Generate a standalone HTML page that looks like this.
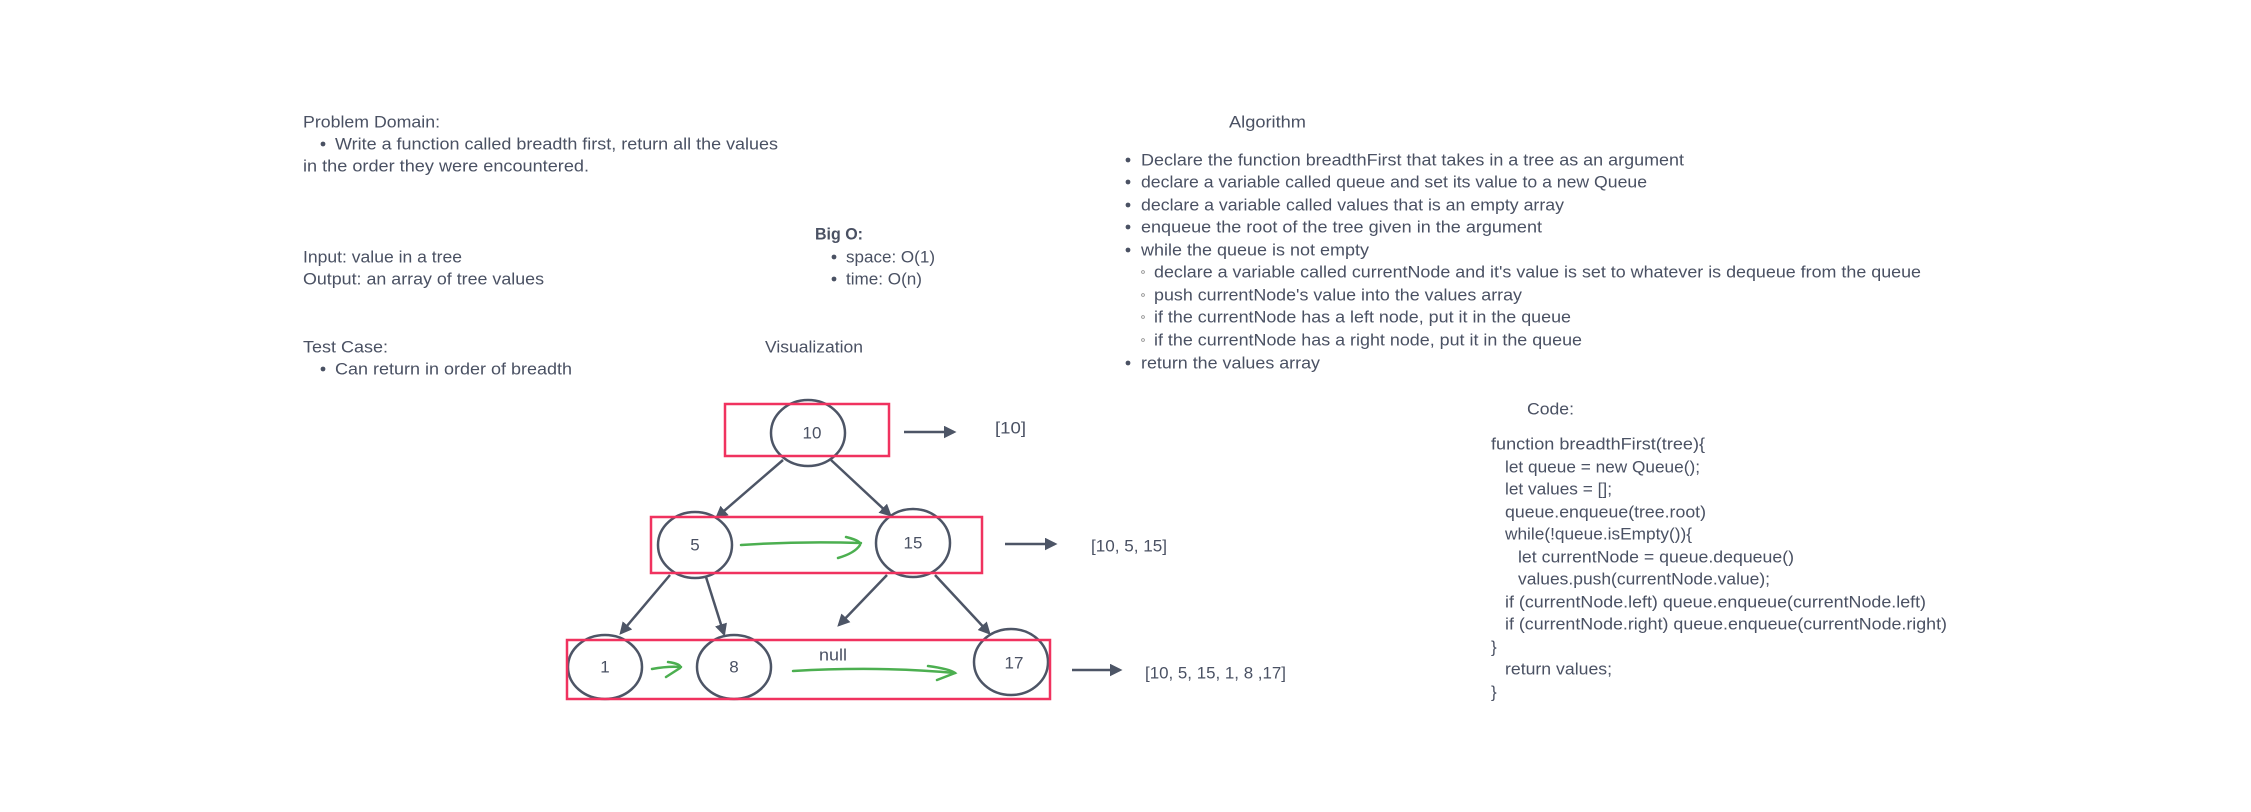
<!DOCTYPE html>
<html><head><meta charset="utf-8"><style>
html,body{margin:0;padding:0;background:#fff;}
svg{display:block;}
text{font-family:"Liberation Sans",sans-serif;font-size:17px;fill:#4a5163;dominant-baseline:central;}
</style></head><body>
<svg width="2251" height="812" viewBox="0 0 2251 812" xmlns="http://www.w3.org/2000/svg">
<defs>
<marker id="ah" viewBox="0 0 10 10" refX="8" refY="5" markerWidth="5" markerHeight="5" orient="auto"><path d="M0,0 L10,5 L0,10 z" fill="#4d5566"/></marker>
</defs>
<!-- Left text -->
<text x="303" y="122" textLength="137" lengthAdjust="spacingAndGlyphs">Problem Domain:</text>
<circle cx="323" cy="144" r="2.4" fill="#4a5163"/>
<text x="335" y="144" textLength="443" lengthAdjust="spacingAndGlyphs">Write a function called breadth first, return all the values</text>
<text x="303" y="166" textLength="286" lengthAdjust="spacingAndGlyphs">in the order they were encountered.</text>
<text x="303" y="257" textLength="159" lengthAdjust="spacingAndGlyphs">Input: value in a tree</text>
<text x="303" y="279" textLength="241" lengthAdjust="spacingAndGlyphs">Output: an array of tree values</text>
<text x="815" y="234" textLength="48" lengthAdjust="spacingAndGlyphs" font-weight="bold">Big O:</text>
<circle cx="834" cy="257" r="2.4" fill="#4a5163"/>
<text x="846" y="257" textLength="89" lengthAdjust="spacingAndGlyphs">space: O(1)</text>
<circle cx="834" cy="279" r="2.4" fill="#4a5163"/>
<text x="846" y="279" textLength="76" lengthAdjust="spacingAndGlyphs">time: O(n)</text>
<text x="303" y="347" textLength="85" lengthAdjust="spacingAndGlyphs">Test Case:</text>
<circle cx="323" cy="369" r="2.4" fill="#4a5163"/>
<text x="335" y="369" textLength="237" lengthAdjust="spacingAndGlyphs">Can return in order of breadth</text>
<text x="765" y="347" textLength="98" lengthAdjust="spacingAndGlyphs">Visualization</text>

<!-- Algorithm -->
<text x="1229" y="122" textLength="77" lengthAdjust="spacingAndGlyphs">Algorithm</text>
<g fill="#4a5163">
<circle cx="1128" cy="160" r="2.4"/><circle cx="1128" cy="182" r="2.4"/><circle cx="1128" cy="205" r="2.4"/><circle cx="1128" cy="227" r="2.4"/><circle cx="1128" cy="250" r="2.4"/><circle cx="1128" cy="363" r="2.4"/>
</g>
<g fill="none" stroke="#888" stroke-width="0.8">
<circle cx="1143" cy="272" r="1.4"/><circle cx="1143" cy="295" r="1.4"/><circle cx="1143" cy="317" r="1.4"/><circle cx="1143" cy="340" r="1.4"/>
</g>
<text x="1141" y="160" textLength="543" lengthAdjust="spacingAndGlyphs">Declare the function breadthFirst that takes in a tree as an argument</text>
<text x="1141" y="182" textLength="506" lengthAdjust="spacingAndGlyphs">declare a variable called queue and set its value to a new Queue</text>
<text x="1141" y="205" textLength="423" lengthAdjust="spacingAndGlyphs">declare a variable called values that is an empty array</text>
<text x="1141" y="227" textLength="401" lengthAdjust="spacingAndGlyphs">enqueue the root of the tree given in the argument</text>
<text x="1141" y="250" textLength="228" lengthAdjust="spacingAndGlyphs">while the queue is not empty</text>
<text x="1154" y="272" textLength="767" lengthAdjust="spacingAndGlyphs">declare a variable called currentNode and it's value is set to whatever is dequeue from the queue</text>
<text x="1154" y="295" textLength="368" lengthAdjust="spacingAndGlyphs">push currentNode's value into the values array</text>
<text x="1154" y="317" textLength="417" lengthAdjust="spacingAndGlyphs">if the currentNode has a left node, put it in the queue</text>
<text x="1154" y="340" textLength="428" lengthAdjust="spacingAndGlyphs">if the currentNode has a right node, put it in the queue</text>
<text x="1141" y="363" textLength="179" lengthAdjust="spacingAndGlyphs">return the values array</text>

<!-- Code -->
<text x="1527" y="409" textLength="47" lengthAdjust="spacingAndGlyphs">Code:</text>
<text x="1491" y="444" textLength="214" lengthAdjust="spacingAndGlyphs">function breadthFirst(tree){</text>
<text x="1505" y="467" textLength="195" lengthAdjust="spacingAndGlyphs">let queue = new Queue();</text>
<text x="1505" y="489" textLength="107" lengthAdjust="spacingAndGlyphs">let values = [];</text>
<text x="1505" y="512" textLength="201" lengthAdjust="spacingAndGlyphs">queue.enqueue(tree.root)</text>
<text x="1505" y="534" textLength="187" lengthAdjust="spacingAndGlyphs">while(!queue.isEmpty()){</text>
<text x="1518" y="557" textLength="276" lengthAdjust="spacingAndGlyphs">let currentNode = queue.dequeue()</text>
<text x="1518" y="579" textLength="252" lengthAdjust="spacingAndGlyphs">values.push(currentNode.value);</text>
<text x="1505" y="602" textLength="421" lengthAdjust="spacingAndGlyphs">if (currentNode.left) queue.enqueue(currentNode.left)</text>
<text x="1505" y="624" textLength="442" lengthAdjust="spacingAndGlyphs">if (currentNode.right) queue.enqueue(currentNode.right)</text>
<text x="1491" y="647">}</text>
<text x="1505" y="669" textLength="107" lengthAdjust="spacingAndGlyphs">return values;</text>
<text x="1491" y="692">}</text>

<!-- Tree -->
<g fill="none" stroke="#4d5566" stroke-width="2.5">
<ellipse cx="808" cy="433" rx="37" ry="33"/>
<ellipse cx="695" cy="545" rx="37" ry="33"/>
<ellipse cx="913" cy="543" rx="37" ry="34"/>
<ellipse cx="605" cy="667" rx="37" ry="32"/>
<ellipse cx="734" cy="667" rx="37" ry="32"/>
<ellipse cx="1011" cy="662" rx="37" ry="33"/>
</g>
<g stroke="#4d5566" stroke-width="2.5" marker-end="url(#ah)" fill="none">
<line x1="783" y1="460" x2="717" y2="517"/>
<line x1="831" y1="460" x2="890" y2="515"/>
<line x1="670" y1="575" x2="621" y2="633"/>
<line x1="706" y1="577" x2="724" y2="634"/>
<line x1="887" y1="575" x2="839" y2="625"/>
<line x1="935" y1="575" x2="989" y2="633"/>
<line x1="904" y1="432" x2="954" y2="432"/>
<line x1="1005" y1="544" x2="1055" y2="544"/>
<line x1="1072" y1="670" x2="1120" y2="670"/>
</g>
<g stroke="#f0325f" stroke-width="2.5" fill="none">
<rect x="725" y="404" width="164" height="52"/>
<rect x="651" y="517" width="331" height="56"/>
<rect x="567" y="640" width="483" height="59"/>
</g>
<g stroke="#4caf50" stroke-width="2.5" fill="none" stroke-linecap="round">
<path d="M741 545 Q800 541 861 543"/>
<path d="M846 537 Q862 541 860 545 Q855 553 838 558"/>
<path d="M652 669 Q668 666 681 667"/>
<path d="M668 662 Q682 664 680 668 L666 677"/>
<path d="M793 671 Q880 666 955 673"/>
<path d="M928 666 Q950 669 955 673 L937 680"/>
</g>
<g>
<text x="812" y="433" text-anchor="middle">10</text>
<text x="695" y="545" text-anchor="middle">5</text>
<text x="913" y="543" text-anchor="middle">15</text>
<text x="605" y="667" text-anchor="middle">1</text>
<text x="734" y="667" text-anchor="middle">8</text>
<text x="1014" y="663" text-anchor="middle">17</text>
<text x="819" y="655" textLength="28" lengthAdjust="spacingAndGlyphs">null</text>
<text x="995" y="428" textLength="31" lengthAdjust="spacingAndGlyphs">[10]</text>
<text x="1091" y="546" textLength="76" lengthAdjust="spacingAndGlyphs">[10, 5, 15]</text>
<text x="1145" y="673" textLength="141" lengthAdjust="spacingAndGlyphs">[10, 5, 15, 1, 8 ,17]</text>
</g>
</svg>
</body></html>
